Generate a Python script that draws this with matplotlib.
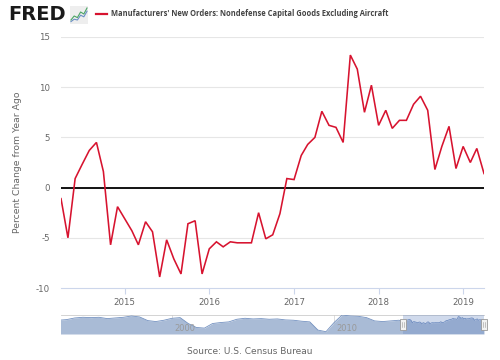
import matplotlib
matplotlib.use("Agg")
import matplotlib.pyplot as plt
from matplotlib.patches import Rectangle
import pandas as pd

# ---------------- data ----------------
start_month = "2014-04-01"
pct_change = [-1.1, -5.0, 0.9, 2.3, 3.7, 4.5, 1.6, -5.7, -1.9, -3.1,
              -4.3, -5.7, -3.4, -4.4, -8.9, -5.2, -7.1, -8.6, -3.6, -3.3,
              -8.6, -6.1, -5.4, -5.9, -5.4, -5.5, -5.5, -5.5, -2.5, -5.1,
              -4.7, -2.6, 0.9, 0.8, 3.2, 4.3, 5.0, 7.6, 6.2, 6.0,
              4.5, 13.2, 11.8, 7.5, 10.2, 6.2, 7.7, 5.9, 6.7, 6.7,
              8.3, 9.1, 7.7, 1.8, 4.1, 6.1, 1.9, 4.1, 2.5, 3.9, 1.4]
y_ticks = [-10, -5, 0, 5, 10, 15]
x_tick_years = [2015, 2016, 2017, 2018, 2019]

# navigator (long history, semiannual from 1993.0 to 2014.0)
nav_start = 1993.0
nav_values = [2, 4, 9, 11, 10, 11, 7, 9, 11, 15, 12, 1, -2, 2, 8, 10,
              -8, -20, -22, -8, -5, -3, 5, 8, 6, 7, 5, 6, 3, 2, -1, -3,
              -28, -33, -5, 18, 15, 14, 10, 0, -2, 0, 2]
nav_labels = ["2000", "2010"]

title = "Manufacturers' New Orders: Nondefense Capital Goods Excluding Aircraft"
ylabel = "Percent Change from Year Ago"
source = "Source: U.S. Census Bureau"

red = "#d7132f"
grid_c = "#e6e6e6"
axis_c = "#ccd6eb"
txt_c = "#666666"

dates = pd.date_range(start_month, periods=len(pct_change), freq="MS")

fig = plt.figure(figsize=(5, 3.6), dpi=100)
W, H = 500, 360

def fx(px):
    return px / W

def fy(py):
    return 1 - py / H

# ---------------- main axes ----------------
ax = fig.add_axes([fx(61), fy(288), fx(484) - fx(61), fy(37) - fy(288)])
ax.plot(dates, pct_change, color=red, lw=1.15, zorder=3, solid_joinstyle="miter")
ax.set_xlim(dates[0], dates[-1])
ax.set_ylim(-10, 15)
ax.set_yticks(y_ticks)
ax.set_yticklabels([str(t) for t in y_ticks])
for t in y_ticks[1:]:
    ax.axhline(t, color=grid_c, lw=0.8, zorder=1)
ax.axhline(0, color="black", lw=1.3, zorder=2)
ax.set_xticks([pd.Timestamp(f"{y}-01-01") for y in x_tick_years])
ax.set_xticklabels([str(y) for y in x_tick_years])
for s in ["top", "right", "left"]:
    ax.spines[s].set_visible(False)
ax.spines["bottom"].set_color(axis_c)
ax.spines["bottom"].set_linewidth(0.8)
ax.tick_params(axis="y", length=0, pad=8, labelsize=6.2, labelcolor=txt_c)
ax.tick_params(axis="x", length=4, width=0.8, color=axis_c, pad=3,
               labelsize=6.2, labelcolor=txt_c)
ax.set_ylabel(ylabel, fontsize=6.7, color=txt_c)
ax.yaxis.set_label_coords((22 - 61) / (484 - 61), 0.5)

# ---------------- navigator ----------------
nav = fig.add_axes([fx(61), fy(334), fx(484) - fx(61), fy(315) - fy(334)])
nav_x = [nav_start + 0.5 * i for i in range(len(nav_values))]
main_x = [2014.25 + i / 12 for i in range(len(pct_change))]
all_x = nav_x + main_x
all_v = nav_values + pct_change
nav.fill_between(all_x, all_v, -40, color="#a9bbd6", lw=0, zorder=2)
nav.plot(all_x, all_v, color="#7391c0", lw=0.6, zorder=3)
nav.set_xlim(1993.15, 2019.25)
nav.set_ylim(-40, 18)
nav.axvspan(2014.25, 2019.25, color=(102 / 255, 133 / 255, 194 / 255), alpha=0.3, lw=0, zorder=4)
for yr, lab in zip([2000, 2010], nav_labels):
    nav.axvline(yr, color="#dddddd", lw=0.7, zorder=1)
    nav.text(yr + 0.15, -36, lab, fontsize=6, color="#999999", zorder=5, va="bottom")
for xh in [2014.25, 2019.25]:
    nav.add_patch(Rectangle((xh - 0.2, -27), 0.4, 32, facecolor="#f2f2f2",
                            edgecolor="#999999", lw=0.6, zorder=6, clip_on=False))
    nav.plot([xh - 0.05, xh - 0.05], [-19, -3], color="#999999", lw=0.4, zorder=7, clip_on=False)
    nav.plot([xh + 0.05, xh + 0.05], [-19, -3], color="#999999", lw=0.4, zorder=7, clip_on=False)
nav.set_xticks([])
nav.set_yticks([])
for s in nav.spines.values():
    s.set_color("#cccccc")
    s.set_linewidth(0.6)
nav.spines["left"].set_visible(False)
nav.spines["right"].set_visible(False)
nav.spines["bottom"].set_visible(False)

# ---------------- header ----------------
fig.text(fx(8), fy(14), "FRED", fontsize=14, fontweight="bold", color="#1a1a1a",
         va="center", ha="left", family="DejaVu Sans")
icon = fig.add_axes([fx(70), fy(24), fx(18), fy(6) - fy(24)])
icon.set_facecolor("#eeeeee")
icon.plot([0, 1, 2, 3, 4, 5], [1, 2, 1.6, 3, 2.5, 4], color="#4aa564", lw=0.8)
icon.plot([0, 1, 2, 3, 4, 5], [0.6, 1.2, 1.0, 2.2, 1.8, 3.2], color="#6b8fc4", lw=0.8)
icon.set_xlim(-0.3, 5.3)
icon.set_ylim(0, 4.5)
icon.set_xticks([])
icon.set_yticks([])
for s in icon.spines.values():
    s.set_visible(False)

fig.add_artist(plt.Line2D([fx(96), fx(107)], [fy(14), fy(14)], color=red, lw=1.6))
fig.text(fx(111), fy(14), title, fontsize=5.45, fontweight="bold", color="#444444",
         va="center", ha="left", family="Open Sans")

fig.text(0.5, fy(352), source, fontsize=6.5, color=txt_c, ha="center", va="center")

fig.savefig("out.png", dpi=100, facecolor="white")
